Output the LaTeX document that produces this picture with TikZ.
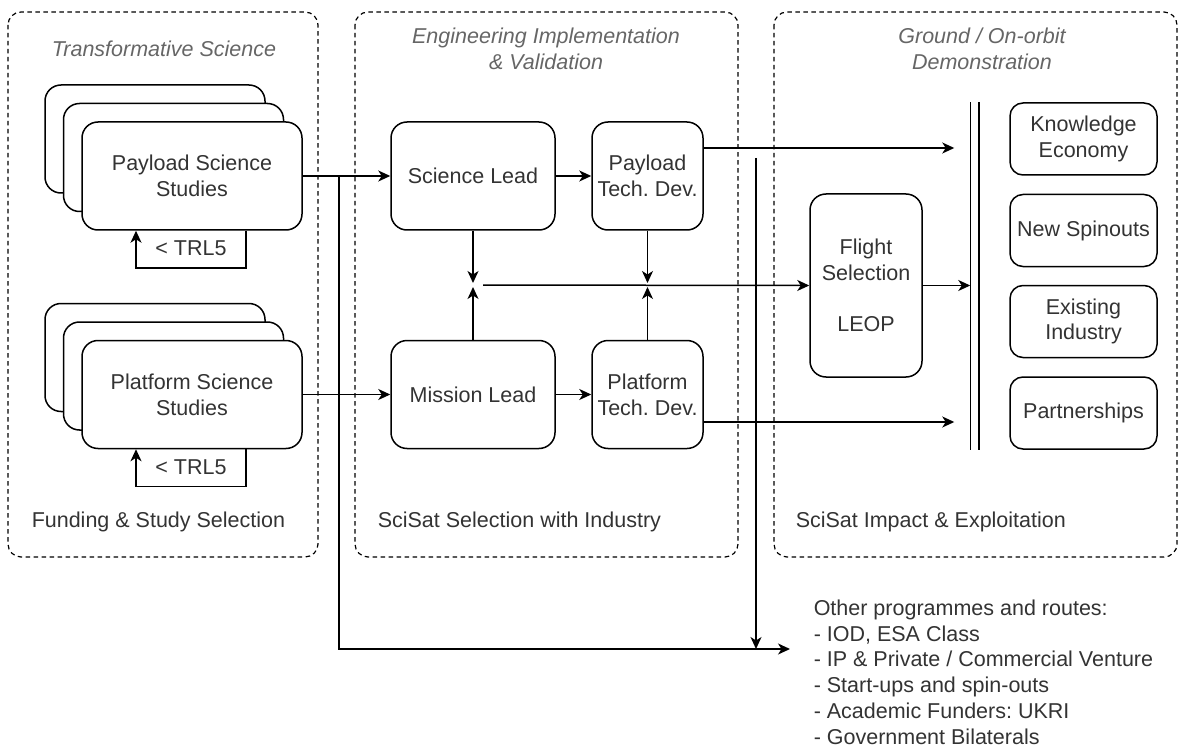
\documentclass[tikz,border=0pt]{standalone}
\usepackage{fontspec}
\setmainfont{Liberation Sans}
\usepackage{tikz}
\usetikzlibrary{arrows.meta}
\frenchspacing

\begin{document}
\begin{tikzpicture}[x=1pt, y=-1pt, line width=1.5pt,
  >={Stealth[length=12pt,width=11pt,inset=3.5pt]},
  every node/.style={font=\fontsize{21.5}{25.8}\selectfont, text=black!80, align=center},
  panel/.style={draw, dash pattern=on 4.5pt off 3.5pt, line width=1.2pt, rounded corners=13pt},
  paneltitle/.style={font=\fontsize{21.5}{25.8}\selectfont\itshape, text=black!60},
  panelnote/.style={anchor=west, inner xsep=0pt},
  study/.style={draw, fill=white, rounded corners=16pt, minimum width=220pt, minimum height=108pt},
  lead/.style={draw, rounded corners=16pt, minimum width=164pt, minimum height=108pt},
  techdev/.style={draw, rounded corners=16pt, minimum width=111pt, minimum height=108pt, inner sep=2pt},
  impact/.style={draw, rounded corners=13pt, minimum width=147pt, minimum height=72pt, inner sep=2pt}]

 \useasboundingbox (0,0) rectangle (1185,751);

 \draw[panel] (8,12) rectangle (318,557);
 \draw[panel] (355,12) rectangle (738,557);
 \draw[panel] (774,12) rectangle (1177,557);

 \node[paneltitle] (tsci) at (164,49) {Transformative Science};
 \node[paneltitle] (teng) at (546,48.5) {Engineering Implementation\\\& Validation};
 \node[paneltitle] (tgnd) at (982,48.5) {Ground / On-orbit\\Demonstration};
 \node[panelnote] (nfund) at (31,522) {Funding \& Study Selection};
 \node[panelnote] (nsel) at (377,522) {SciSat Selection with Industry};
 \node[panelnote] (nimp) at (795,522) {SciSat Impact \& Exploitation};

 \node[study] (payload3) at (155,139) {};
 \node[study] (payload2) at (173.5,157.5) {};
 \node[study] (payload) at (192,176) {Payload Science\\Studies};
 \node[study] (platform3) at (155,357.5) {};
 \node[study] (platform2) at (173.5,376) {};
 \node[study] (platform) at (192,394.5) {Platform Science\\Studies};

 \draw[->] ([xshift=54pt]payload.south) -- ++(0,37) -| ([xshift=-56pt]payload.south);
 \node (trlpay) at (191,248) {< TRL5};
 \draw[->] ([xshift=54pt]platform.south) -- ++(0,37) -| ([xshift=-56pt]platform.south);
 \node (trlplat) at (191,467) {< TRL5};

 \node[lead] (science) at (473,176) {Science Lead};
 \node[lead] (mission) at (473,394.5) {Mission Lead};
 \node[techdev] (paytech) at (647.5,176) {Payload\\Tech. Dev.};
 \node[techdev] (plattech) at (647.5,394.5) {Platform\\Tech. Dev.};
 \node[draw, rounded corners=16pt, minimum width=112pt, minimum height=183pt] (flight)
   at (866,285.5) {Flight\\Selection\\[25.8pt]LEOP};

 \node[minimum width=7pt, minimum height=346pt, inner sep=0pt] (bar) at (974.5,276) {};
 \draw (bar.north west) -- (bar.south west) (bar.north east) -- (bar.south east);

 \node[impact] (knowledge) at (1083.5,139) {Knowledge\\Economy};
 \node[impact] (spinouts) at (1083.5,230.5) {New Spinouts};
 \node[impact] (existing) at (1083.5,321.5) {Existing\\Industry};
 \node[impact] (partner) at (1083.5,413) {Partnerships};

 \node[anchor=north west, align=left, inner sep=0pt] (other) at (813,599)
   {Other programmes and routes:\\- IOD, ESA Class\\- IP \& Private / Commercial Venture\\
    - Start-ups and spin-outs\\- Academic Funders: UKRI\\- Government Bilaterals};

 \coordinate (jsci) at (473,285);
 \coordinate (jtech) at (647.5,285);
 \coordinate (drop) at (756,158);
 \coordinate (otherin) at (790,649);

 \path[->]
  (payload) edge (science)
  (platform) edge (mission)
  (science) edge (paytech)
  (mission) edge (plattech)
  (science) edge[shorten >=2pt] (jsci)
  (mission) edge[shorten >=2pt] (jsci)
  (paytech) edge[shorten >=2pt] (jtech)
  (plattech) edge[shorten >=2pt] (jtech)
  (flight) edge (flight -| bar.west)
  (drop) edge (drop |- otherin);
 \draw[->] (jsci) ++(10,0) -- (flight.west);
 \draw[->, shorten >=16pt] ([yshift=28pt]paytech.east) -- ([yshift=28pt]paytech.east -| bar.west);
 \draw[->, shorten >=16pt] ([yshift=-27.5pt]plattech.east) -- ([yshift=-27.5pt]plattech.east -| bar.west);
 \draw[->] (payload.east) -- ++(36,0) |- (otherin);
\end{tikzpicture}
\end{document}
